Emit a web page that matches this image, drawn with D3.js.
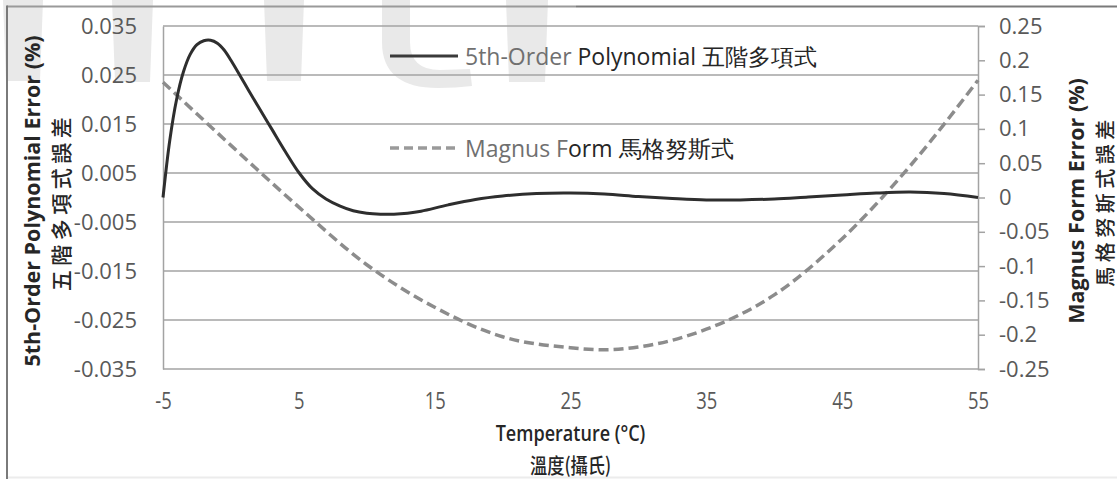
<!DOCTYPE html>
<html>
<head>
<meta charset="utf-8">
<script src="https://cdn.jsdelivr.net/npm/d3@7"></script>
<style>
  html, body { margin: 0; padding: 0; background: #fff; }
  svg { display: block; }
  text { font-family: "Open Sans", "Noto Sans", sans-serif; }
  .cjk { font-family: "Noto Sans CJK TC", "Noto Sans CJK SC", sans-serif; }
</style>
</head>
<body>
<svg id="chart" width="1117" height="479"></svg>
<script>
// ---- data -------------------------------------------------------------
// 5th-order polynomial fit error (%), left axis
const polyTemps = [-5, -4.5, -4, -3.5, -3, -2.5, -2, -1.5, -1, -0.5, 0, 1, 2, 3, 4, 5, 6, 7, 8, 9, 10,
  11, 12, 13, 14, 16, 18, 20, 22.5, 25, 27.5, 30, 32.5, 35, 37.5, 40, 42.5, 45, 47.5, 50, 52.5, 55];
const polyError = [0, 0.0117, 0.0200, 0.0256, 0.0292, 0.0312, 0.0320, 0.0321, 0.0315, 0.0301, 0.0280,
  0.0233, 0.0186, 0.0140, 0.0094, 0.0051, 0.0018, -0.0003, -0.0017, -0.0027, -0.0032,
  -0.0034, -0.0034, -0.0032, -0.0028, -0.0015, -0.0004, 0.0003, 0.0008, 0.0009, 0.0007,
  0.0002, -0.0002, -0.0005, -0.0005, -0.0003, 0.0001, 0.0005, 0.0009, 0.0011, 0.0008, 0.0000];

// Magnus form error (%), right axis
const magnusTemps = [-5, 0, 5, 10, 15, 20, 25, 27.5, 30, 35, 40, 45, 50, 55];
const magnusError = [0.168, 0.076, -0.014, -0.098, -0.160, -0.203, -0.219, -0.222, -0.218,
  -0.192, -0.142, -0.060, 0.046, 0.171];

// axis ticks
const xTicks = [-5, 5, 15, 25, 35, 45, 55];
const leftTicks = [0.035, 0.025, 0.015, 0.005, -0.005, -0.015, -0.025, -0.035];
const rightTicks = [0.25, 0.2, 0.15, 0.1, 0.05, 0, -0.05, -0.1, -0.15, -0.2, -0.25];

// ---- layout -----------------------------------------------------------
const W = 1117, H = 479;
const plot = { left: 163, right: 978, top: 26, bottom: 369 };
const gridColor = "#a3a3a3";
const tickColor = "#595959";

const svg = d3.select("#chart");
svg.append("rect").attr("width", W).attr("height", H).attr("fill", "#fff");

// faint lettering along the top edge
const decor = [
  "M3,0 L43,0 L40,81 L6,81 Z",
  "M112,0 L153,0 L150,82 L115,82 Z",
  "M264,0 L304,0 L301,81 L267,81 Z",
  "M506,0 L548,0 L545,82 L509,82 Z",
  "M382,0 L410,0 L410,42 Q410,70 440,70 L470,69 L472,86 Q456,88 438,88 Q382,88 382,42 Z"
];
svg.append("g").selectAll("path").data(decor).join("path")
  .attr("d", d => d).attr("fill", "#e9e9e9");

// outer frame
svg.append("line").attr("x1", 7).attr("x2", 576).attr("y1", 6.5).attr("y2", 6.5)
  .attr("stroke", "#9a9a9a").attr("stroke-width", 2);
svg.append("line").attr("x1", 576).attr("x2", W).attr("y1", 6.5).attr("y2", 6.5)
  .attr("stroke", "#7a7a7a").attr("stroke-width", 2);
svg.append("line").attr("x1", 7).attr("x2", 7).attr("y1", 5.5).attr("y2", H)
  .attr("stroke", "#7a7a7a").attr("stroke-width", 2);
svg.append("line").attr("x1", 8).attr("x2", W).attr("y1", 477.5).attr("y2", 477.5)
  .attr("stroke", "#ececec").attr("stroke-width", 2);

// ---- scales -----------------------------------------------------------
const x = d3.scaleLinear().domain([-5, 55]).range([plot.left, plot.right]);
const yL = d3.scaleLinear().domain([-0.035, 0.035]).range([plot.bottom, plot.top]);
const yR = d3.scaleLinear().domain([-0.25, 0.25]).range([plot.bottom, plot.top]);

// horizontal gridlines
svg.append("g").selectAll("line").data(leftTicks).join("line")
  .attr("x1", plot.left).attr("x2", plot.right)
  .attr("y1", d => yL(d)).attr("y2", d => yL(d))
  .attr("stroke", gridColor).attr("stroke-width", 1.5);

// left axis (labels only, plus the plot's left edge)
const leftAxis = svg.append("g").attr("transform", `translate(${plot.left},0)`)
  .call(d3.axisLeft(yL).tickValues(leftTicks).tickSize(0).tickPadding(26)
    .tickFormat(d => d.toFixed(3)));
leftAxis.select(".domain").attr("stroke", gridColor).attr("stroke-width", 1.5);
leftAxis.selectAll("text").attr("font-size", 22).attr("fill", tickColor)
  .style("font-family", '"Open Sans", sans-serif');

// right axis
const rightAxis = svg.append("g").attr("transform", `translate(${plot.right},0)`)
  .call(d3.axisRight(yR).tickValues(rightTicks).tickSize(7).tickPadding(14)
    .tickFormat(d => String(d)));
rightAxis.select(".domain").attr("stroke", gridColor).attr("stroke-width", 1.5);
rightAxis.selectAll(".tick line").attr("stroke", gridColor).attr("stroke-width", 1.5);
rightAxis.selectAll("text").attr("font-size", 22).attr("fill", tickColor)
  .style("font-family", '"Open Sans", sans-serif');

// bottom axis (labels only)
const bottomAxis = svg.append("g").attr("transform", `translate(0,${plot.bottom})`)
  .call(d3.axisBottom(x).tickValues(xTicks).tickSize(0).tickPadding(24).tickFormat(d => String(d)));
bottomAxis.select(".domain").remove();
bottomAxis.selectAll("text").attr("font-size", 23).attr("fill", tickColor)
  .attr("transform", "scale(0.8,1)")
  .style("font-family", '"Open Sans", sans-serif');

// ---- series -----------------------------------------------------------
const polyPts = polyTemps.map((t, i) => [t, polyError[i]]);
const magPts = magnusTemps.map((t, i) => [t, magnusError[i]]);

svg.append("path").datum(magPts)
  .attr("fill", "none").attr("stroke", "#8c8c8c").attr("stroke-width", 3.5)
  .attr("stroke-dasharray", "10,5")
  .attr("d", d3.line().x(d => x(d[0])).y(d => yR(d[1])).curve(d3.curveMonotoneX));

svg.append("path").datum(polyPts)
  .attr("fill", "none").attr("stroke", "#2e2e2e").attr("stroke-width", 3)
  .attr("stroke-linejoin", "round")
  .attr("d", d3.line().x(d => x(d[0])).y(d => yL(d[1])).curve(d3.curveCatmullRom.alpha(0.5)));

// ---- legend -----------------------------------------------------------
const legend = svg.append("g");
const legendRows = [
  { y: 56, stroke: "#3a3a3a", dash: null, width: 3,
    parts: [["5th-Order ", "#707070"], ["Polynomial ", "#262626"], ["五階多項式", "#262626"]] },
  { y: 148, stroke: "#9a9a9a", dash: "9,5", width: 3.5,
    parts: [["Magnus F", "#707070"], ["orm ", "#262626"], ["馬格努斯式", "#262626"]] }
];
legendRows.forEach(r => {
  legend.append("line").attr("x1", 390).attr("x2", 458).attr("y1", r.y).attr("y2", r.y)
    .attr("stroke", r.stroke).attr("stroke-width", r.width)
    .attr("stroke-dasharray", r.dash);
  const t = legend.append("text").attr("x", 465).attr("y", r.y)
    .attr("dominant-baseline", "central").attr("font-size", 23);
  r.parts.forEach(([s, c]) => t.append("tspan").text(s).attr("fill", c));
});

// ---- axis titles ------------------------------------------------------
function vTitle(cx, cy, txt, opts) {
  svg.append("text")
    .attr("transform", `translate(${cx},${cy}) rotate(-90)`)
    .attr("text-anchor", "middle").attr("dominant-baseline", "central")
    .attr("font-size", opts.size).attr("font-weight", opts.weight || "normal")
    .attr("letter-spacing", opts.spacing || 0)
    .attr("class", opts.cls || null)
    .attr("fill", "#262626").text(txt);
}
vTitle(31, 201, "5th-Order Polynomial Error (%)", { size: 21.5, weight: "bold" });
vTitle(60, 202, "五階多項式誤差", { size: 21, spacing: 4.5, cls: "cjk", weight: 500 });
vTitle(1075, 201, "Magnus Form Error (%)", { size: 21.5, weight: "bold" });
vTitle(1104, 201, "馬格努斯式誤差", { size: 20, spacing: 4.5, cls: "cjk", weight: 500 });

svg.append("text")
  .attr("transform", `translate(${(plot.left + plot.right) / 2},433) scale(0.82,1)`)
  .attr("text-anchor", "middle").attr("dominant-baseline", "central")
  .attr("font-size", 22).attr("font-weight", 600).attr("fill", "#262626")
  .text("Temperature (°C)");
svg.append("text")
  .attr("transform", `translate(${(plot.left + plot.right) / 2},464) scale(0.82,1)`)
  .attr("text-anchor", "middle").attr("dominant-baseline", "central")
  .attr("class", "cjk").attr("font-size", 21).attr("font-weight", 500).attr("fill", "#262626")
  .text("溫度(攝氏)");
</script>
</body>
</html>
